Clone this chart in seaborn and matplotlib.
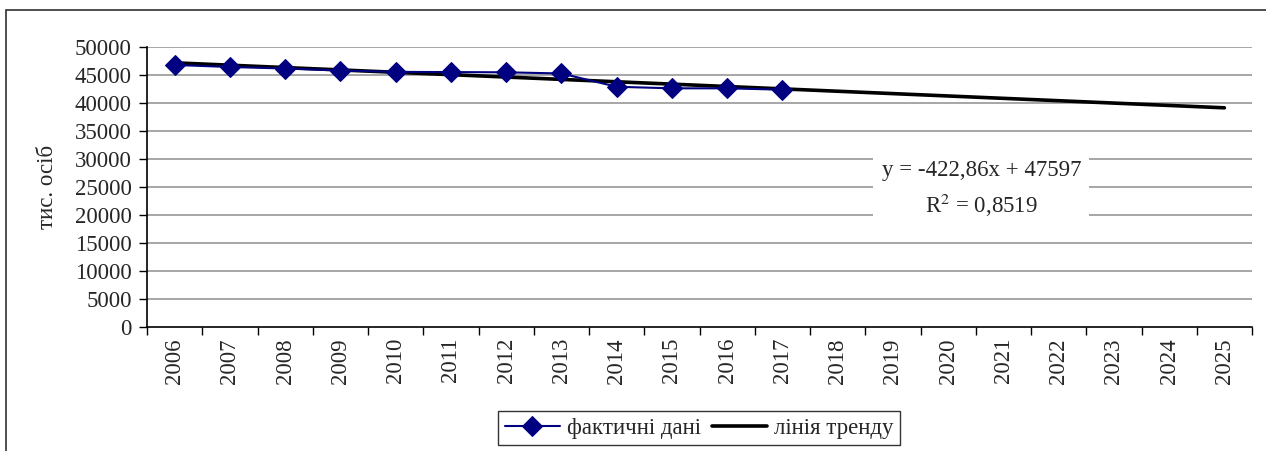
import matplotlib
matplotlib.use("Agg")
import matplotlib.pyplot as plt
import numpy as np
import seaborn as sns

# data
years = list(range(2006, 2026))
fact_years = list(range(2006, 2018))
fact_values = [46790, 46430, 46160, 45800, 45560, 45520, 45480, 45270,
               42900, 42620, 42620, 42380]

# trend line as printed on the chart: y = -422,86x + 47597
slope = -422.86
intercept = 47597
trend_values = [slope * (i + 1) + intercept for i in range(len(years))]

y_ticks = list(range(0, 50001, 5000))

sns.set_theme(style="white")
plt.rcParams['font.family'] = ['Liberation Serif', 'DejaVu Serif']
plt.rcParams['mathtext.fontset'] = 'stix'

fig = plt.figure(figsize=(12.66, 4.51), dpi=100)
ax = fig.add_axes([147 / 1266, 1 - 327 / 451, (1252 - 147) / 1266, 280 / 451])

# outer frame (left and top edges visible)
fig.patches.append(plt.Rectangle((6 / 1266, -0.05), 1.2, 1 - 10 / 451 + 0.05,
                                 transform=fig.transFigure, fill=False,
                                 edgecolor="#303030", linewidth=1.2))

for yv in y_ticks[1:]:
    ax.axhline(yv, color="#a6a6a6", linewidth=1.4, zorder=0)

sns.lineplot(x=years, y=trend_values, ax=ax, color="black", linewidth=2.6,
             zorder=3, label="лінія тренду")
sns.lineplot(x=fact_years, y=fact_values, ax=ax, color="#000080", linewidth=1.5,
             marker="D", markersize=10, markeredgecolor="#000080", zorder=4,
             label="фактичні дані")

ax.set_xlim(2005.5, 2025.5)
ax.set_ylim(0, 50000)
ax.set_yticks(y_ticks)
ax.set_yticklabels([str(v) for v in y_ticks], fontsize=16.5)
ax.set_xticks(years)
ax.set_xticklabels([str(y) for y in years], rotation=90, fontsize=16.5)
ax.set_xticks([y - 0.5 for y in years] + [2025.5], minor=True)
ax.tick_params(axis="x", which="major", length=0, pad=8)
ax.tick_params(axis="x", which="minor", length=6, width=1, color="black", direction="out", bottom=True)
ax.tick_params(axis="y", length=6, width=1, color="black", direction="out", left=True, pad=5)

for s in ["top", "right"]:
    ax.spines[s].set_visible(False)
for s in ["left", "bottom"]:
    ax.spines[s].set_color("black")
    ax.spines[s].set_linewidth(1.2)

ax.set_xlabel("")
ax.set_ylabel("тис. осіб", fontsize=16.5, labelpad=12)

# trend equation box
ax.text(2020.6, 24500, "y = -422,86x + 47597\nR$^2$ = 0,8519", fontsize=16.5,
        ha="center", va="center", linespacing=1.5, zorder=5,
        bbox=dict(facecolor="white", edgecolor="none", pad=6))

ax.get_legend().remove()
h, l = ax.get_legend_handles_labels()
order = [1, 0]
fig.legend([h[i] for i in order], [l[i] for i in order], loc="center",
           bbox_to_anchor=(699 / 1266, 1 - 428 / 451), ncol=2, fontsize=16.5,
           frameon=True, fancybox=False, edgecolor="black", handlelength=2.4,
           columnspacing=0.5, handletextpad=0.3, borderpad=0.3)

fig.savefig("out.png", dpi=100, facecolor="white")
